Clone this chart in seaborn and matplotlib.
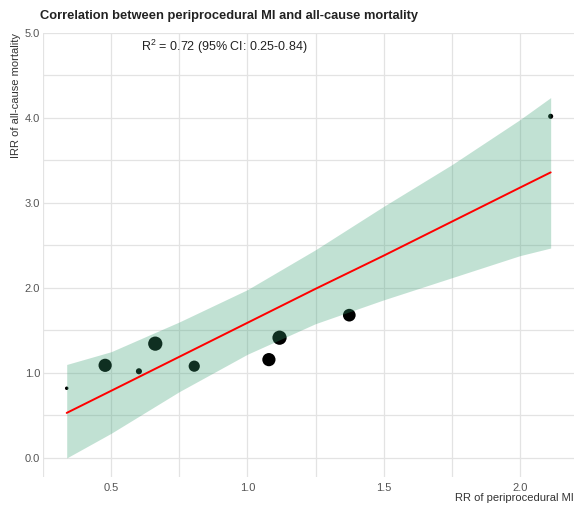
import numpy as np
import pandas as pd
import matplotlib
matplotlib.use("Agg")
import matplotlib.pyplot as plt
import seaborn as sns
from matplotlib import font_manager
from matplotlib.ticker import MultipleLocator, FormatStrFormatter

# ---- data ----
rr_mi = [0.337, 0.478, 0.602, 0.662, 0.805, 1.079, 1.118, 1.374, 2.113]
irr_mortality = [0.82, 1.09, 1.02, 1.345, 1.08, 1.157, 1.415, 1.68, 4.02]
study_weight = [1.1, 15.6, 3.3, 18.1, 11.2, 15.6, 18.1, 14.4, 2.3]

fit_x = [0.337, 0.5, 0.75, 1.0, 1.25, 1.5, 1.75, 2.0, 2.113]
fit_y = [0.53, 0.79, 1.19, 1.59, 1.99, 2.38, 2.78, 3.18, 3.36]
ci_lower = [0.00, 0.29, 0.78, 1.22, 1.58, 1.86, 2.12, 2.38, 2.47]
ci_upper = [1.10, 1.25, 1.60, 1.98, 2.45, 2.96, 3.45, 3.98, 4.24]

title = "Correlation between periprocedural MI and all-cause mortality"
annot = r"R$^2$ = 0.72 (95% CI: 0.25-0.84)"
x_label = "RR of periprocedural MI"
y_label = "IRR of all-cause mortality"

df = pd.DataFrame({"rr": rr_mi, "irr": irr_mortality, "w": study_weight})
fit = pd.DataFrame({"x": fit_x, "y": fit_y, "lo": ci_lower, "hi": ci_upper})

sns.set_theme(style="white")
avail = {f.name for f in font_manager.fontManager.ttflist}
fam = [f for f in ["Liberation Sans Narrow", "Liberation Sans", "DejaVu Sans"] if f in avail]
plt.rcParams["font.family"] = fam
plt.rcParams["mathtext.fontset"] = "custom"
plt.rcParams["mathtext.rm"] = fam[0]

W, H = 574, 507
fig = plt.figure(figsize=(W / 100, H / 100), dpi=100)
ax = fig.add_axes([43 / W, 30 / H, (W - 43) / W, (477 - 33) / H])

sns.scatterplot(data=df, x="rr", y="irr", size="w", sizes=(0, 105),
                size_norm=(0, max(study_weight)), color="black",
                edgecolor="none", linewidth=0, legend=False, ax=ax, zorder=2)
ax.fill_between(fit["x"], fit["lo"], fit["hi"], color="#349e70", alpha=0.3,
                linewidth=0, zorder=3)
sns.lineplot(data=fit, x="x", y="y", color="#ff0000", linewidth=1.4,
             ax=ax, zorder=4)

ax.set_xlim(0.25, 0.25 + (W - 43) / 272.5)
ax.set_ylim(-0.224, 5.0)
ax.xaxis.set_major_locator(MultipleLocator(0.5))
ax.xaxis.set_minor_locator(MultipleLocator(0.25))
ax.yaxis.set_major_locator(MultipleLocator(1.0))
ax.yaxis.set_minor_locator(MultipleLocator(0.5))
ax.yaxis.set_major_formatter(FormatStrFormatter("%.1f"))
ax.grid(True, which="both", color="#e3e3e3", linewidth=0.9, zorder=0)
ax.set_axisbelow(True)
for s in ax.spines.values():
    s.set_visible(False)
ax.tick_params(axis="both", which="both", length=0, labelsize=8,
               labelcolor="#555555")
ax.tick_params(axis="x", pad=4)
ax.tick_params(axis="y", pad=2)

ax.set_xlabel(x_label, fontsize=8, color="#333333", loc="right", labelpad=0)
ax.set_ylabel(y_label, fontsize=8, color="#333333", loc="top", labelpad=3)

ax.text(0.914, 4.84, annot, fontsize=9, color="#222222",
        ha="center", va="center")
fig.text(40 / W, 1 - 16 / H, title, fontsize=9.3, fontweight="bold",
         color="#222222", ha="left", va="center")

fig.savefig("out.png", dpi=100)
